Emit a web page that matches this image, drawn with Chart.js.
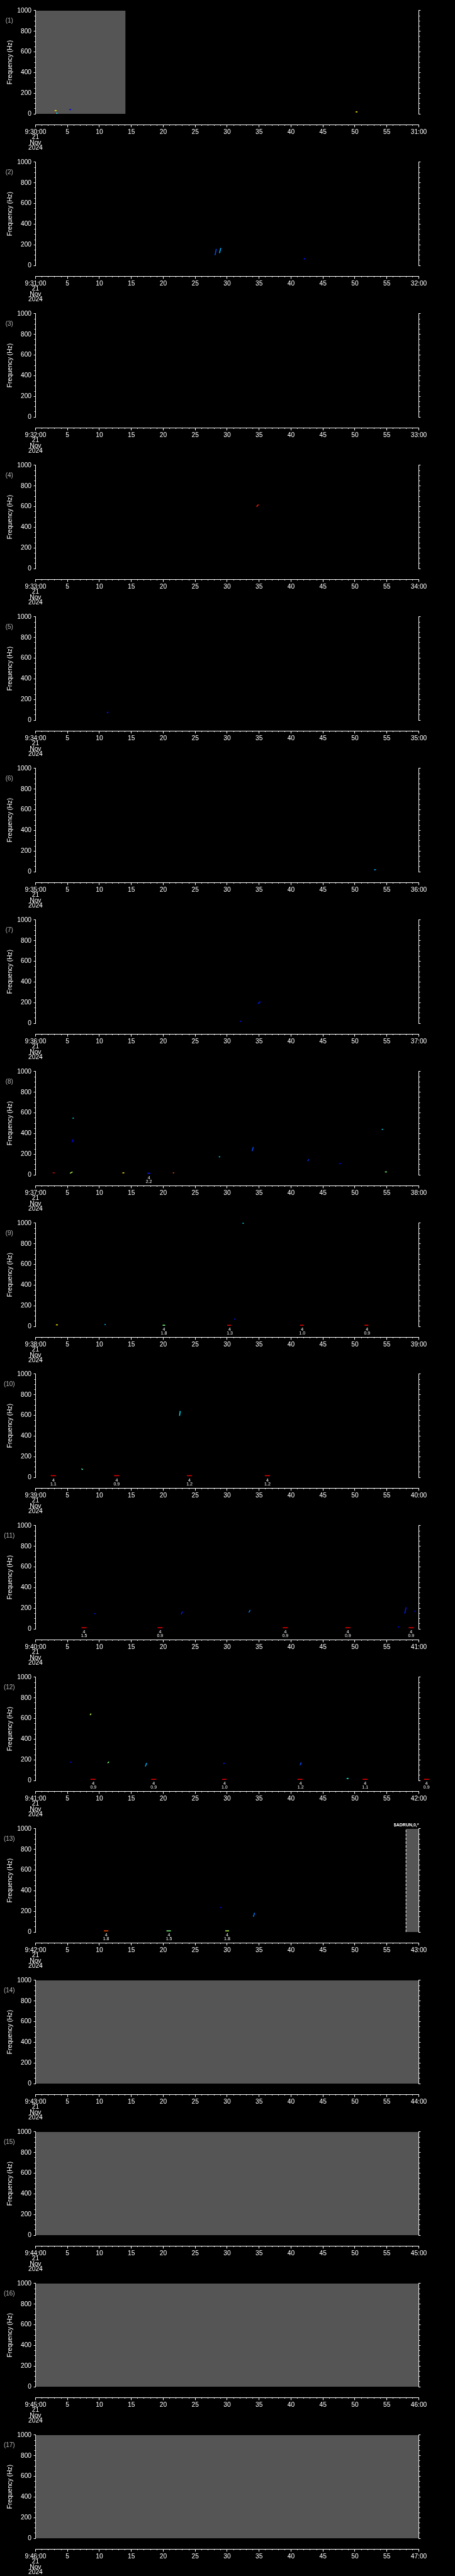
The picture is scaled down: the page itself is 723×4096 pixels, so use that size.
<!DOCTYPE html>
<html lang="en">
<head>
  <meta charset="UTF-8">
  <title>Spectrogram 21 Nov 2024</title>
  <script src="https://cdn.jsdelivr.net/npm/chart.js"></script>
  <style>
    body {
      margin: 0;
      background-color: #000;
    }

    #wrap {
      position: relative;
      width: 723px;
      height: 4096px;
    }

    #wrap canvas {
      position: absolute;
      left: 0;
    }
  </style>
</head>
<body>

  <div id="wrap"></div>

  <script>
    // Tick labels for each one-minute panel
    const startLabels = ['9:30:00', '9:31:00', '9:32:00', '9:33:00', '9:34:00', '9:35:00', '9:36:00', '9:37:00', '9:38:00',
      '9:39:00', '9:40:00', '9:41:00', '9:42:00', '9:43:00', '9:44:00', '9:45:00', '9:46:00'];
    const endLabels = ['31:00', '32:00', '33:00', '34:00', '35:00', '36:00', '37:00', '38:00', '39:00',
      '40:00', '41:00', '42:00', '43:00', '44:00', '45:00', '46:00', '47:00'];
    const dateLines = ['21', 'Nov', '2024'];

    // Spectrogram marks per panel: [t0 (s), t1 (s), f0 (Hz), f1 (Hz), power level 0..1]
    const p01 = [[3.0, 3.3, 33, 33, 0.65], [3.0, 3.2, 7, 7, 0.9], [3.2, 3.45, 7, 7, 0.35], [5.3, 5.6, 42, 42, 0.12], [50.1, 50.4, 20, 20, 0.65]];
    const p02 = [[28.1, 28.3, 100, 160, 0.2], [28.8, 29.0, 120, 170, 0.3], [42.0, 42.2, 60, 70, 0.15]];
    const p03 = [];
    const p04 = [[34.6, 34.9, 600, 620, 0.85]];
    const p05 = [[11.2, 11.4, 70, 80, 0.15]];
    const p06 = [[53.0, 53.3, 20, 20, 0.3]];
    const p07 = [[34.8, 35.2, 190, 210, 0.15], [32.0, 32.2, 20, 20, 0.15]];
    const p08 = [[2.7, 3.0, 20, 20, 0.9], [5.4, 5.8, 16, 29, 0.55], [5.8, 6.0, 549, 549, 0.35], [5.75, 5.9, 318, 345, 0.12],
      [13.6, 13.9, 20, 20, 0.65], [17.5, 18.0, 16, 16, 0.15], [21.5, 21.7, 20, 20, 0.8], [28.7, 28.9, 175, 175, 0.35],
      [33.9, 34.1, 231, 270, 0.2], [42.6, 42.8, 134, 151, 0.18], [47.5, 47.8, 109, 109, 0.12], [54.2, 54.4, 441, 441, 0.35],
      [54.7, 55.0, 29, 29, 0.5]];
    const p09 = [[3.2, 3.5, 16, 16, 0.65], [10.8, 11.0, 19, 19, 0.3], [19.9, 20.3, 12, 12, 0.5], [30.0, 30.6, 12, 12, 0.9],
      [31.1, 31.3, 69, 75, 0.15], [32.4, 32.6, 999, 999, 0.35], [41.4, 42.0, 12, 12, 0.9], [51.5, 52.1, 12, 12, 0.9]];
    const p10 = [[2.4, 3.2, 17, 17, 0.9], [7.2, 7.4, 84, 75, 0.45], [12.3, 13.1, 17, 17, 0.9], [22.55, 22.65, 596, 643, 0.35],
      [23.7, 24.5, 17, 17, 0.9], [35.9, 36.7, 17, 17, 0.9]];
    const p11 = [[7.2, 8.0, 12, 12, 0.9], [9.2, 9.4, 148, 148, 0.15], [19.1, 19.9, 12, 12, 0.9], [22.8, 23.0, 142, 168, 0.15],
      [33.4, 33.6, 160, 183, 0.25], [38.7, 39.5, 12, 12, 0.9], [48.5, 49.3, 12, 12, 0.9], [56.7, 56.9, 20, 20, 0.12],
      [57.8, 58.0, 150, 209, 0.15], [58.4, 59.2, 12, 12, 0.9], [59.35, 59.45, 165, 178, 0.12]];
    const p12 = [[5.4, 5.6, 178, 178, 0.12], [8.55, 8.7, 634, 648, 0.55], [8.6, 9.4, 12, 12, 0.9], [11.3, 11.5, 168, 182, 0.5],
      [17.2, 17.4, 136, 170, 0.3], [18.1, 18.9, 12, 12, 0.9], [29.4, 29.6, 162, 170, 0.15], [29.2, 29.9, 12, 12, 0.9],
      [41.4, 41.6, 150, 175, 0.2], [41.0, 41.8, 12, 12, 0.9], [48.7, 49.0, 20, 20, 0.4], [51.2, 52.0, 12, 12, 0.9],
      [60.8, 61.6, 12, 12, 0.9]];
    const p13 = [[10.7, 11.4, 12, 12, 0.8], [20.5, 21.2, 12, 12, 0.5], [28.9, 29.1, 238, 238, 0.12], [29.7, 30.3, 12, 12, 0.55],
      [34.1, 34.3, 148, 187, 0.25]];
    const panelMarks = [p01, p02, p03, p04, p05, p06, p07, p08, p09, p10, p11, p12, p13, [], [], [], []];

    // Data-gap bands (s) per panel
    const grayBands = [[[0, 14.1]], [], [], [], [], [], [], [], [], [], [], [], [[58.0, 60]], [[0, 60]], [[0, 60]], [[0, 60]], [[0, 60]]];
    const gapEdges = [[], [], [], [], [], [], [], [], [], [], [], [], [58.0], [], [], [], []];

    // Event notes under the axis: [t (s), mode, value]
    const notes08 = [[17.75, '4', '2.2']];
    const notes09 = [[20.1, '4', '1.8'], [30.4, '4', '1.3'], [41.75, '4', '1.0'], [51.9, '4', '0.9']];
    const notes10 = [[2.8, '4', '1.1'], [12.7, '4', '0.9'], [24.1, '4', '1.2'], [36.3, '4', '1.2']];
    const notes11 = [[7.6, '4', '1.5'], [19.5, '4', '0.9'], [39.1, '4', '0.9'], [48.9, '4', '0.9'], [58.8, '4', '0.9']];
    const notes12 = [[9.05, '4', '0.9'], [18.5, '4', '0.9'], [29.6, '4', '1.0'], [41.5, '4', '1.2'], [51.6, '4', '1.1'], [61.2, '4', '0.9']];
    const notes13 = [[11.05, '4', '1.8'], [20.9, '4', '1.5'], [30.0, '4', '1.8']];
    const panelNotes = [[], [], [], [], [], [], [], notes08, notes09, notes10, notes11, notes12, notes13, [], [], [], []];

    const FONT = "'Liberation Sans', Arial, sans-serif";
    const PANEL_H = 4096 / 17;

    function jet(v) {
      const c = k => Math.round(255 * Math.max(0, Math.min(1, 1.5 - Math.abs(4 * v - k))));
      return 'rgb(' + c(3) + ',' + c(2) + ',' + c(1) + ')';
    }

    // panel tag, notes under the marks, header text
    const panelText = {
      id: 'panelText',
      afterDraw(chart) {
        const o = chart.options.plugins.panelText;
        const ctx = chart.ctx;
        const xs = chart.scales.x;
        const ys = chart.scales.y;
        ctx.save();
        ctx.textAlign = 'center';
        ctx.textBaseline = 'middle';
        ctx.fillStyle = '#b4b4b4';
        ctx.font = '10px ' + FONT;
        ctx.fillText(o.tag, 14.8, 33);
        ctx.fillStyle = '#ffffff';
        ctx.font = '7px ' + FONT;
        for (const [t, a, b] of o.notes) {
          const px = xs.getPixelForValue(t);
          ctx.fillText(a, px, ys.bottom + 4.4);
          ctx.fillText(b, px, ys.bottom + 11);
        }
        if (o.header) {
          ctx.textAlign = 'right';
          ctx.font = 'bold 7px ' + FONT;
          ctx.fillText(o.header, xs.right, 11.3);
        }
        ctx.restore();
      }
    };

    function scalesFor(i) {
      const tickFont = { family: FONT, size: 10.2, lineHeight: 0.83 };
      return {
        x: {
          type: 'linear', axis: 'x', min: 0, max: 60, position: { y: -103 },
          border: { display: true, color: '#fff', width: 1 },
          grid: { drawOnChartArea: false, tickLength: 3.3, tickColor: '#fff', tickWidth: 1 },
          ticks: {
            stepSize: 5, autoSkip: false, maxRotation: 0, color: '#fff', font: tickFont, padding: 4.35,
            callback: v => v === 0 ? [startLabels[i], ...dateLines] : (v === 60 ? endLabels[i] : String(v))
          }
        },
        x2: {
          type: 'linear', axis: 'x', min: 0, max: 60, position: { y: -103 },
          border: { display: false },
          grid: { drawOnChartArea: false, tickLength: 1.9, tickColor: '#fff', tickWidth: 1 },
          ticks: { display: false, stepSize: 1, maxTicksLimit: 100 }
        },
        y: {
          type: 'linear', axis: 'y', position: 'left', min: 0, max: 1000,
          afterFit: s => { s.width = 56.4; },
          border: { color: '#fff', width: 1 },
          grid: { drawOnChartArea: false, tickLength: 2.8, tickColor: '#fff', tickWidth: 1 },
          ticks: { stepSize: 200, color: '#fff', font: { family: FONT, size: 10.2 }, padding: 3.6, callback: v => String(v) },
          title: { display: true, text: 'Frequency (Hz)', color: '#fff', font: { family: FONT, size: 10.2 }, padding: { top: 10, bottom: 0 } }
        },
        y2: {
          type: 'linear', axis: 'y', min: 0, max: 1000, position: { x: 0 },
          border: { display: false },
          grid: { drawOnChartArea: false, tickLength: 1.4, tickColor: '#fff', tickWidth: 1 },
          ticks: { display: false, stepSize: 50, maxTicksLimit: 100 }
        },
        yr: {
          type: 'linear', axis: 'y', position: 'right', min: 0, max: 1000,
          afterFit: s => { s.width = 57.5; },
          border: { color: '#fff', width: 1 },
          grid: { drawOnChartArea: false, tickLength: 2.8, tickColor: '#fff', tickWidth: 1 },
          ticks: { display: false, stepSize: 200 }
        },
        yr2: {
          type: 'linear', axis: 'y', min: 0, max: 1000, position: { x: 60 },
          border: { display: false },
          grid: { drawOnChartArea: false, tickLength: -1.4, tickColor: '#fff', tickWidth: 1 },
          ticks: { display: false, stepSize: 50, maxTicksLimit: 100 }
        }
      };
    }

    function datasetsFor(i) {
      const sets = [];
      for (const [g0, g1] of grayBands[i]) {
        sets.push({
          data: [{ x: g0, y: 1000 }, { x: g1, y: 1000 }],
          showLine: true, fill: 'origin', backgroundColor: '#555555', borderWidth: 0, pointRadius: 0, order: 3
        });
      }
      for (const e of gapEdges[i]) {
        sets.push({
          data: [{ x: e, y: 0 }, { x: e, y: 1000 }],
          showLine: true, borderColor: '#ffffff', borderWidth: 1, borderDash: [4.2, 1.9], pointRadius: 0, order: 2
        });
      }
      for (const [t0, t1, f0, f1, lv] of panelMarks[i]) {
        sets.push({
          data: [{ x: t0, y: f0 }, { x: t1, y: f1 }],
          showLine: true, borderColor: jet(lv), borderWidth: 1.5, pointRadius: 0, clip: false, order: 1
        });
      }
      return sets;
    }

    const wrap = document.getElementById('wrap');
    for (let i = 0; i < 17; i++) {
      const cv = document.createElement('canvas');
      cv.width = 723;
      cv.height = 241;
      cv.style.top = Math.round(i * PANEL_H) + 'px';
      wrap.appendChild(cv);

      new Chart(cv, {
        type: 'scatter',
        data: { datasets: datasetsFor(i) },
        options: {
          responsive: false,
          animation: false,
          devicePixelRatio: 1,
          layout: { padding: { top: 16.9, bottom: 59.8, left: 0, right: 0 } },
          plugins: {
            legend: { display: false },
            tooltip: { enabled: false },
            panelText: { tag: '(' + (i + 1) + ')', notes: panelNotes[i], header: i === 12 ? '$ADRUN,0,*' : '' }
          },
          scales: scalesFor(i)
        },
        plugins: [panelText]
      });
    }
  </script>
</body>
</html>
